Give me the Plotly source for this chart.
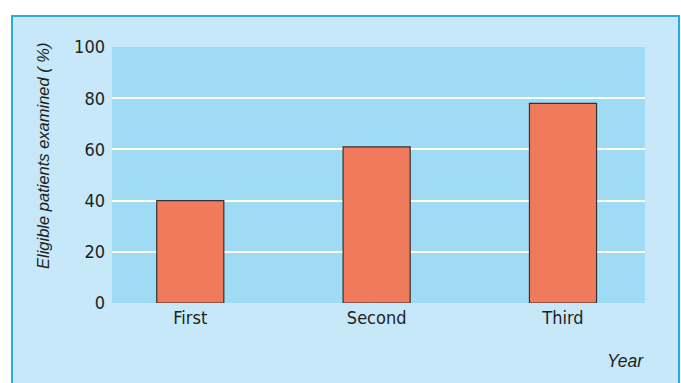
import plotly.graph_objects as go

categories = ["First", "Second", "Third"]
values = [40, 61, 78]
y_ticks = [0, 20, 40, 60, 80, 100]

L, R, T, B = 112, 36, 47, 80
W, H = 681, 383
pw, ph = W - L - R, H - T - B

def px_x(p):
    return (p - L) / pw

def px_y(p):
    return (H - B - p) / ph

font_fam = "DejaVu Sans Condensed, Liberation Sans Narrow, Arial Narrow, sans-serif"
ital_fam = "Liberation Sans, Arial, sans-serif"

fig = go.Figure()
fig.add_trace(go.Bar(
    x=categories, y=values, width=0.36,
    marker=dict(color="#f07a5c", line=dict(color="#333333", width=1.2)),
    hoverinfo="skip",
))

fig.update_layout(
    width=W, height=H,
    margin=dict(l=L, r=R, t=T, b=B, autoexpand=False),
    paper_bgcolor="white",
    plot_bgcolor="#9fdbf5",
    showlegend=False,
    font=dict(family=font_fam, size=18, color="#231f20"),
    xaxis=dict(range=[-0.42, 2.44], showgrid=False, zeroline=False,
               showline=False, ticks="", tickfont=dict(size=18),
               ticklabelstandoff=2),
    yaxis=dict(range=[0, 100], tickvals=y_ticks, showgrid=True,
               gridcolor="white", gridwidth=2, zeroline=False,
               showline=False, ticks="", ticklen=0, tickfont=dict(size=18),
               ticklabelstandoff=6, automargin=False),
    shapes=[
        dict(type="rect", xref="paper", yref="paper", layer="below",
             x0=px_x(12), x1=px_x(679), y0=px_y(390), y1=px_y(16),
             fillcolor="#c6e8f8", line=dict(color="#29abe2", width=2)),
        dict(type="rect", xref="paper", yref="paper", layer="below",
             x0=0, x1=1, y0=0, y1=1,
             fillcolor="#9fdbf5", line=dict(width=0)),
    ],
    annotations=[
        dict(text="<i>Year</i>", xref="paper", yref="paper",
             x=px_x(646), y=px_y(361), xanchor="right", yanchor="middle",
             showarrow=False, font=dict(family=ital_fam, size=17.5)),
        dict(text="<i>Eligible patients examined ( %)</i>", xref="paper", yref="paper",
             x=px_x(43), y=px_y(156), xanchor="center", yanchor="middle",
             textangle=-90, showarrow=False, font=dict(family=ital_fam, size=16.5)),
    ],
)

fig.write_html("out.html", config={"displayModeBar": False})
with open("out.html", encoding="utf-8") as f:
    html = f.read()
html = html.replace("<body>", '<body style="margin:0;padding:0">', 1)
with open("out.html", "w", encoding="utf-8") as f:
    f.write(html)
